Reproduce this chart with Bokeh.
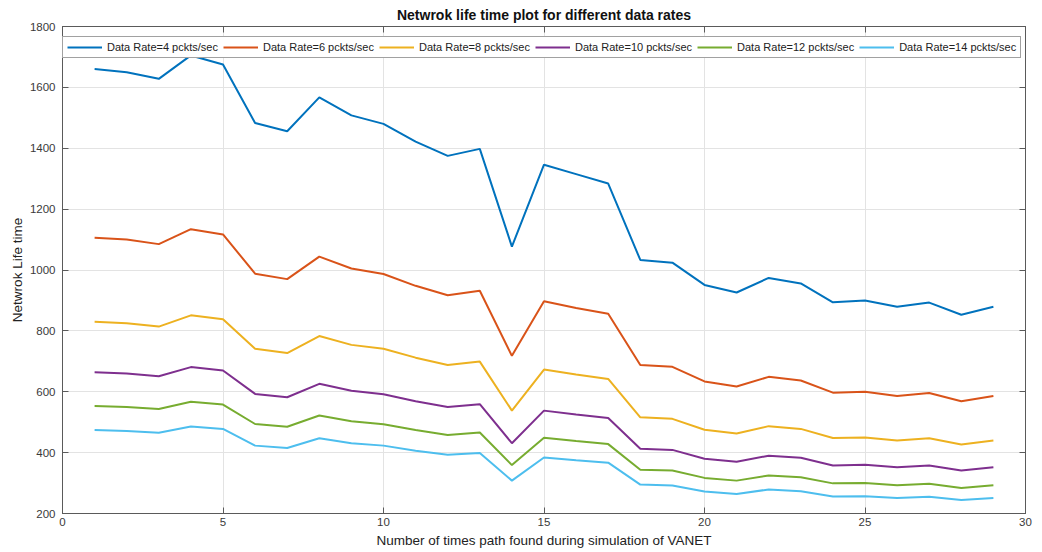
from bokeh.plotting import figure
from bokeh.models import LinearAxis, Range1d, Legend, LegendItem, FixedTicker, Title
from bokeh.embed import file_html
from bokeh.resources import INLINE

x = list(range(1, 30))

rate4 = [1660, 1650, 1628, 1705, 1675, 1483, 1456, 1567, 1508, 1480, 1422, 1375, 1398, 1077, 1346,
         1315, 1284, 1033, 1024, 951, 926, 974, 956, 894, 900, 879, 893, 853, 879]
rate6 = [1106, 1100, 1085, 1134, 1117, 988, 970, 1044, 1005, 987, 948, 917, 932, 718, 897,
         875, 856, 688, 682, 634, 617, 649, 637, 597, 600, 586, 596, 569, 586]
rate8 = [830, 825, 814, 851, 838, 741, 727, 783, 754, 741, 712, 688, 699, 538, 673,
         657, 642, 516, 511, 475, 463, 487, 478, 448, 450, 440, 447, 427, 440]
rate10 = [664, 660, 651, 681, 670, 593, 582, 626, 603, 592, 569, 550, 559, 431, 538,
          525, 514, 413, 409, 380, 370, 390, 383, 358, 360, 352, 358, 341, 352]
rate12 = [553, 550, 543, 567, 558, 494, 485, 522, 503, 493, 474, 458, 466, 359, 449,
          438, 428, 344, 341, 317, 308, 325, 319, 299, 300, 293, 298, 284, 293]
rate14 = [474, 471, 465, 486, 478, 423, 415, 447, 431, 423, 406, 393, 399, 308, 384,
          375, 367, 295, 292, 272, 264, 279, 273, 256, 257, 251, 255, 244, 251]

labels = ["Data Rate=4 pckts/sec", "Data Rate=6 pckts/sec", "Data Rate=8 pckts/sec",
          "Data Rate=10 pckts/sec", "Data Rate=12 pckts/sec", "Data Rate=14 pckts/sec"]
series = [rate4, rate6, rate8, rate10, rate12, rate14]
colors = ["#0072BD", "#D95319", "#EDB120", "#7E2F8E", "#77AC30", "#4DBEEE"]

x_ticks = [0, 5, 10, 15, 20, 25, 30]
y_ticks = [200, 400, 600, 800, 1000, 1200, 1400, 1600, 1800]

FONT = "Liberation Sans"
AX = "#5a5a5a"

p = figure(width=1042, height=552, output_backend="svg", toolbar_location=None,
           x_range=Range1d(0, 30), y_range=Range1d(200, 1800),
           min_border_left=62, min_border_right=17, min_border_top=26, min_border_bottom=39)
p.title = Title(text="Netwrok life time plot for different data rates", align="center",
                text_font=FONT, text_font_size="14px", text_font_style="bold",
                text_color="#111111", standoff=7)
p.background_fill_color = "white"
p.border_fill_color = "white"
p.outline_line_color = AX
p.outline_line_width = 1

items = []
for s, lab, c in zip(series, labels, colors):
    r = p.line(x, s, line_color=c, line_width=2)
    items.append(LegendItem(label=lab, renderers=[r]))

# primary axes
for ax in (p.xaxis[0], p.yaxis[0]):
    ax.major_tick_in = 6
    ax.major_tick_out = 0
    ax.minor_tick_in = 0
    ax.minor_tick_out = 0
    ax.axis_line_color = AX
    ax.major_tick_line_color = AX
    ax.major_label_text_font = FONT
    ax.major_label_text_font_size = "11.5px"
    ax.major_label_text_color = "#3a3a3a"
    ax.axis_label_text_font = FONT
    ax.axis_label_text_font_size = "13.5px"
    ax.axis_label_text_font_style = "normal"
    ax.axis_label_text_color = "#222222"

p.xaxis[0].ticker = FixedTicker(ticks=x_ticks)
p.yaxis[0].ticker = FixedTicker(ticks=y_ticks)
p.xaxis[0].axis_label = "Number of times path found during simulation of VANET"
p.yaxis[0].axis_label = "Netwrok Life time"
p.xaxis[0].major_label_standoff = 4
p.xaxis[0].axis_label_standoff = 4
p.yaxis[0].major_label_standoff = 7
p.yaxis[0].axis_label_standoff = 2

# top and right axes (ticks only, labels not drawn)
top = LinearAxis(ticker=FixedTicker(ticks=x_ticks), major_tick_in=6, major_tick_out=0,
                 minor_tick_in=0, minor_tick_out=0, axis_line_color=AX,
                 major_tick_line_color=AX, major_label_text_font_size="1px",
                 major_label_text_color=None, major_label_standoff=0)
right = LinearAxis(ticker=FixedTicker(ticks=y_ticks), major_tick_in=6, major_tick_out=0,
                   minor_tick_in=0, minor_tick_out=0, axis_line_color=AX,
                   major_tick_line_color=AX, major_label_text_font_size="1px",
                   major_label_text_color=None, major_label_standoff=0)
p.add_layout(top, "above")
p.add_layout(right, "right")

p.xgrid.ticker = FixedTicker(ticks=x_ticks)
p.ygrid.ticker = FixedTicker(ticks=y_ticks)
p.xgrid.grid_line_color = "#e3e3e3"
p.ygrid.grid_line_color = "#e3e3e3"
p.xgrid.grid_line_width = 1
p.ygrid.grid_line_width = 1

legend = Legend(items=items, orientation="horizontal", location=(0, 455), margin=0,
                glyph_width=35, glyph_height=12, label_height=12, label_standoff=5,
                spacing=5, padding=4,
                label_text_font=FONT, label_text_font_size="11px", label_text_color="#222222",
                border_line_color="#444444", border_line_width=1,
                background_fill_color="white", background_fill_alpha=1)
p.add_layout(legend, "center")

open("out.html", "w").write(file_html(p, INLINE))
